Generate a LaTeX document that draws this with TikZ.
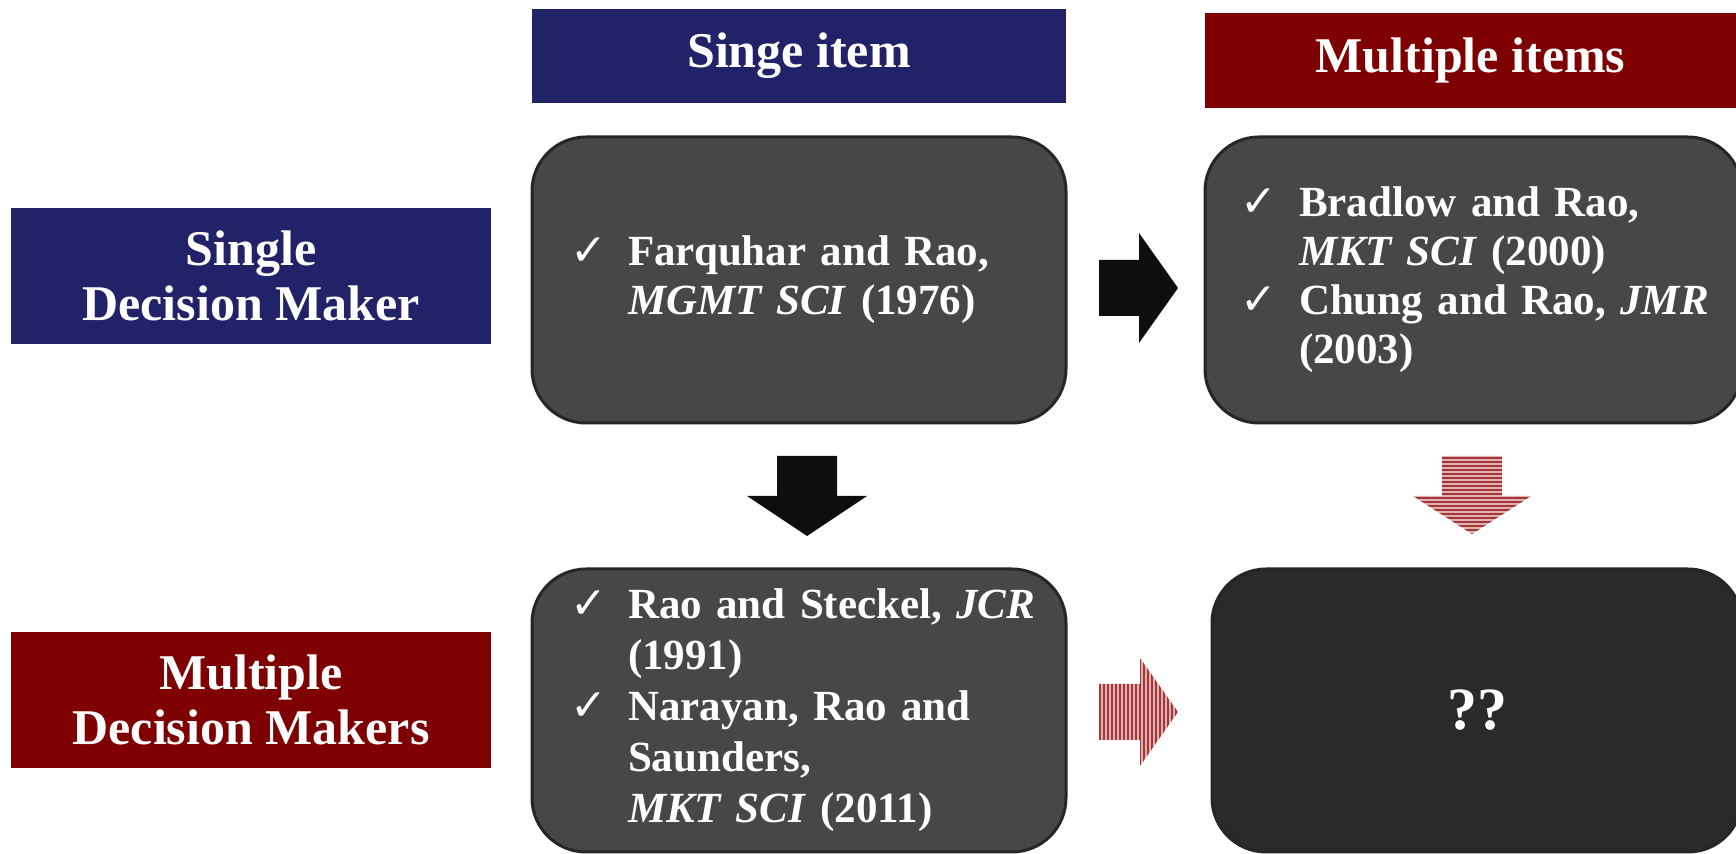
\documentclass[tikz,border=0pt]{standalone}
\usepackage{fontspec}
\setmainfont{Liberation Serif}
\newfontfamily\symfont{DejaVu Sans}
\usetikzlibrary{patterns.meta}

\definecolor{navyhead}{RGB}{34,34,104}
\definecolor{redhead}{RGB}{127,0,0}
\definecolor{cardgray}{RGB}{71,71,71}
\definecolor{carddark}{RGB}{42,42,42}
\definecolor{arrowblack}{RGB}{14,14,14}
\definecolor{stripelight}{RGB}{226,176,176}
\definecolor{stripedark}{RGB}{160,56,56}

\newcommand{\tick}{{\symfont\fontsize{22}{22}\selectfont ✓}}

\begin{document}
\begin{tikzpicture}[x=0.5pt,y=-0.5pt,
  header/.style={text=white,font=\fontsize{25}{27.5}\selectfont\bfseries,align=center,inner sep=0pt},
  card/.style={fill=cardgray,draw=black!85,line width=1.5pt,rounded corners=27pt,text=white,
    font=\fontsize{21.5}{24.5}\selectfont\bfseries,align=left,inner ysep=0pt,
    execute at begin node={\parindent=0pt}},
  striped/.style={preaction={fill=stripelight},pattern={Lines[distance=2pt,line width=1pt]},pattern color=stripedark},
  stripedv/.style={preaction={fill=stripelight},pattern={Lines[angle=90,distance=2pt,line width=1pt]},pattern color=stripedark}]
\useasboundingbox (0,0) rectangle (1736,854);
% column and row headers
\node[header,fill=navyhead,minimum width=267pt,minimum height=47pt] (colsingle) at (799,56) {Singe item};
\node[header,fill=redhead,minimum width=265.5pt,minimum height=47.5pt] (colmulti) at (1470.5,60.5) {Multiple items};
\node[header,fill=navyhead,minimum width=240pt,minimum height=68pt] (rowsingle) at (251,276) {Single\\Decision Maker};
\node[header,fill=redhead,minimum width=240pt,minimum height=68pt] (rowmulti) at (251,700) {Multiple\\Decision Makers};
% the four cells
\node[card,text width=229pt,inner xsep=19pt,minimum height=143pt] (farquhar) at (799,280) {%
  \begin{tabular}{@{}p{29pt}@{}l@{}}
  \tick & Farquhar and Rao,\\
        & \textit{MGMT SCI} (1976)
  \end{tabular}};
\node[card,text width=233.5pt,inner xsep=17.5pt,minimum height=143pt] (bradlow) at (1473.5,280) {%
  \begin{tabular}{@{}p{29.5pt}@{}l@{}}
  \tick & Bradlow and Rao,\\
        & \textit{MKT SCI} (2000)\\
  \tick & Chung and Rao, \textit{JMR}\\
        & (2003)
  \end{tabular}};
\node[card,font=\fontsize{21.5}{25.5}\selectfont\bfseries,text width=229pt,inner xsep=19pt,minimum height=141.5pt] (steckel) at (799,710.5) {%
  \begin{tabular}{@{}p{29pt}@{}l@{}}
  \tick & Rao and Steckel, \textit{JCR}\\
        & (1991)\\
  \tick & Narayan, Rao and\\
        & Saunders,\\
        & \textit{MKT SCI} (2011)
  \end{tabular}};
\node[card,fill=carddark,font=\fontsize{30}{30}\selectfont\bfseries,align=center,minimum width=265pt,minimum height=141.5pt] (open) at (1477,710.5) {??};
% block arrows between the cells
\coordinate (farqright) at (1099,288);
\coordinate (farqdown) at (807,456);
\coordinate (bradown) at (1472,456);
\coordinate (steckright) at (1099,712);
\fill[arrowblack] (farqright) ++(0,-28) -- ++(40,0) -- ++(0,-27) -- ++(39,55) -- ++(-39,55) -- ++(0,-27) -- ++(-40,0) -- cycle;
\fill[arrowblack] (farqdown) ++(-30,0) -- ++(60,0) -- ++(0,40) -- ++(30,0) -- ++(-60,40) -- ++(-60,-40) -- ++(30,0) -- cycle;
\path[striped] (bradown) ++(-30,0) -- ++(60,0) -- ++(0,40) -- ++(29,0) -- ++(-59,38) -- ++(-59,-38) -- ++(29,0) -- cycle;
\path[stripedv] (steckright) ++(0,-28) -- ++(41,0) -- ++(0,-26) -- ++(38,54) -- ++(-38,54) -- ++(0,-26) -- ++(-41,0) -- cycle;
\end{tikzpicture}
\end{document}
